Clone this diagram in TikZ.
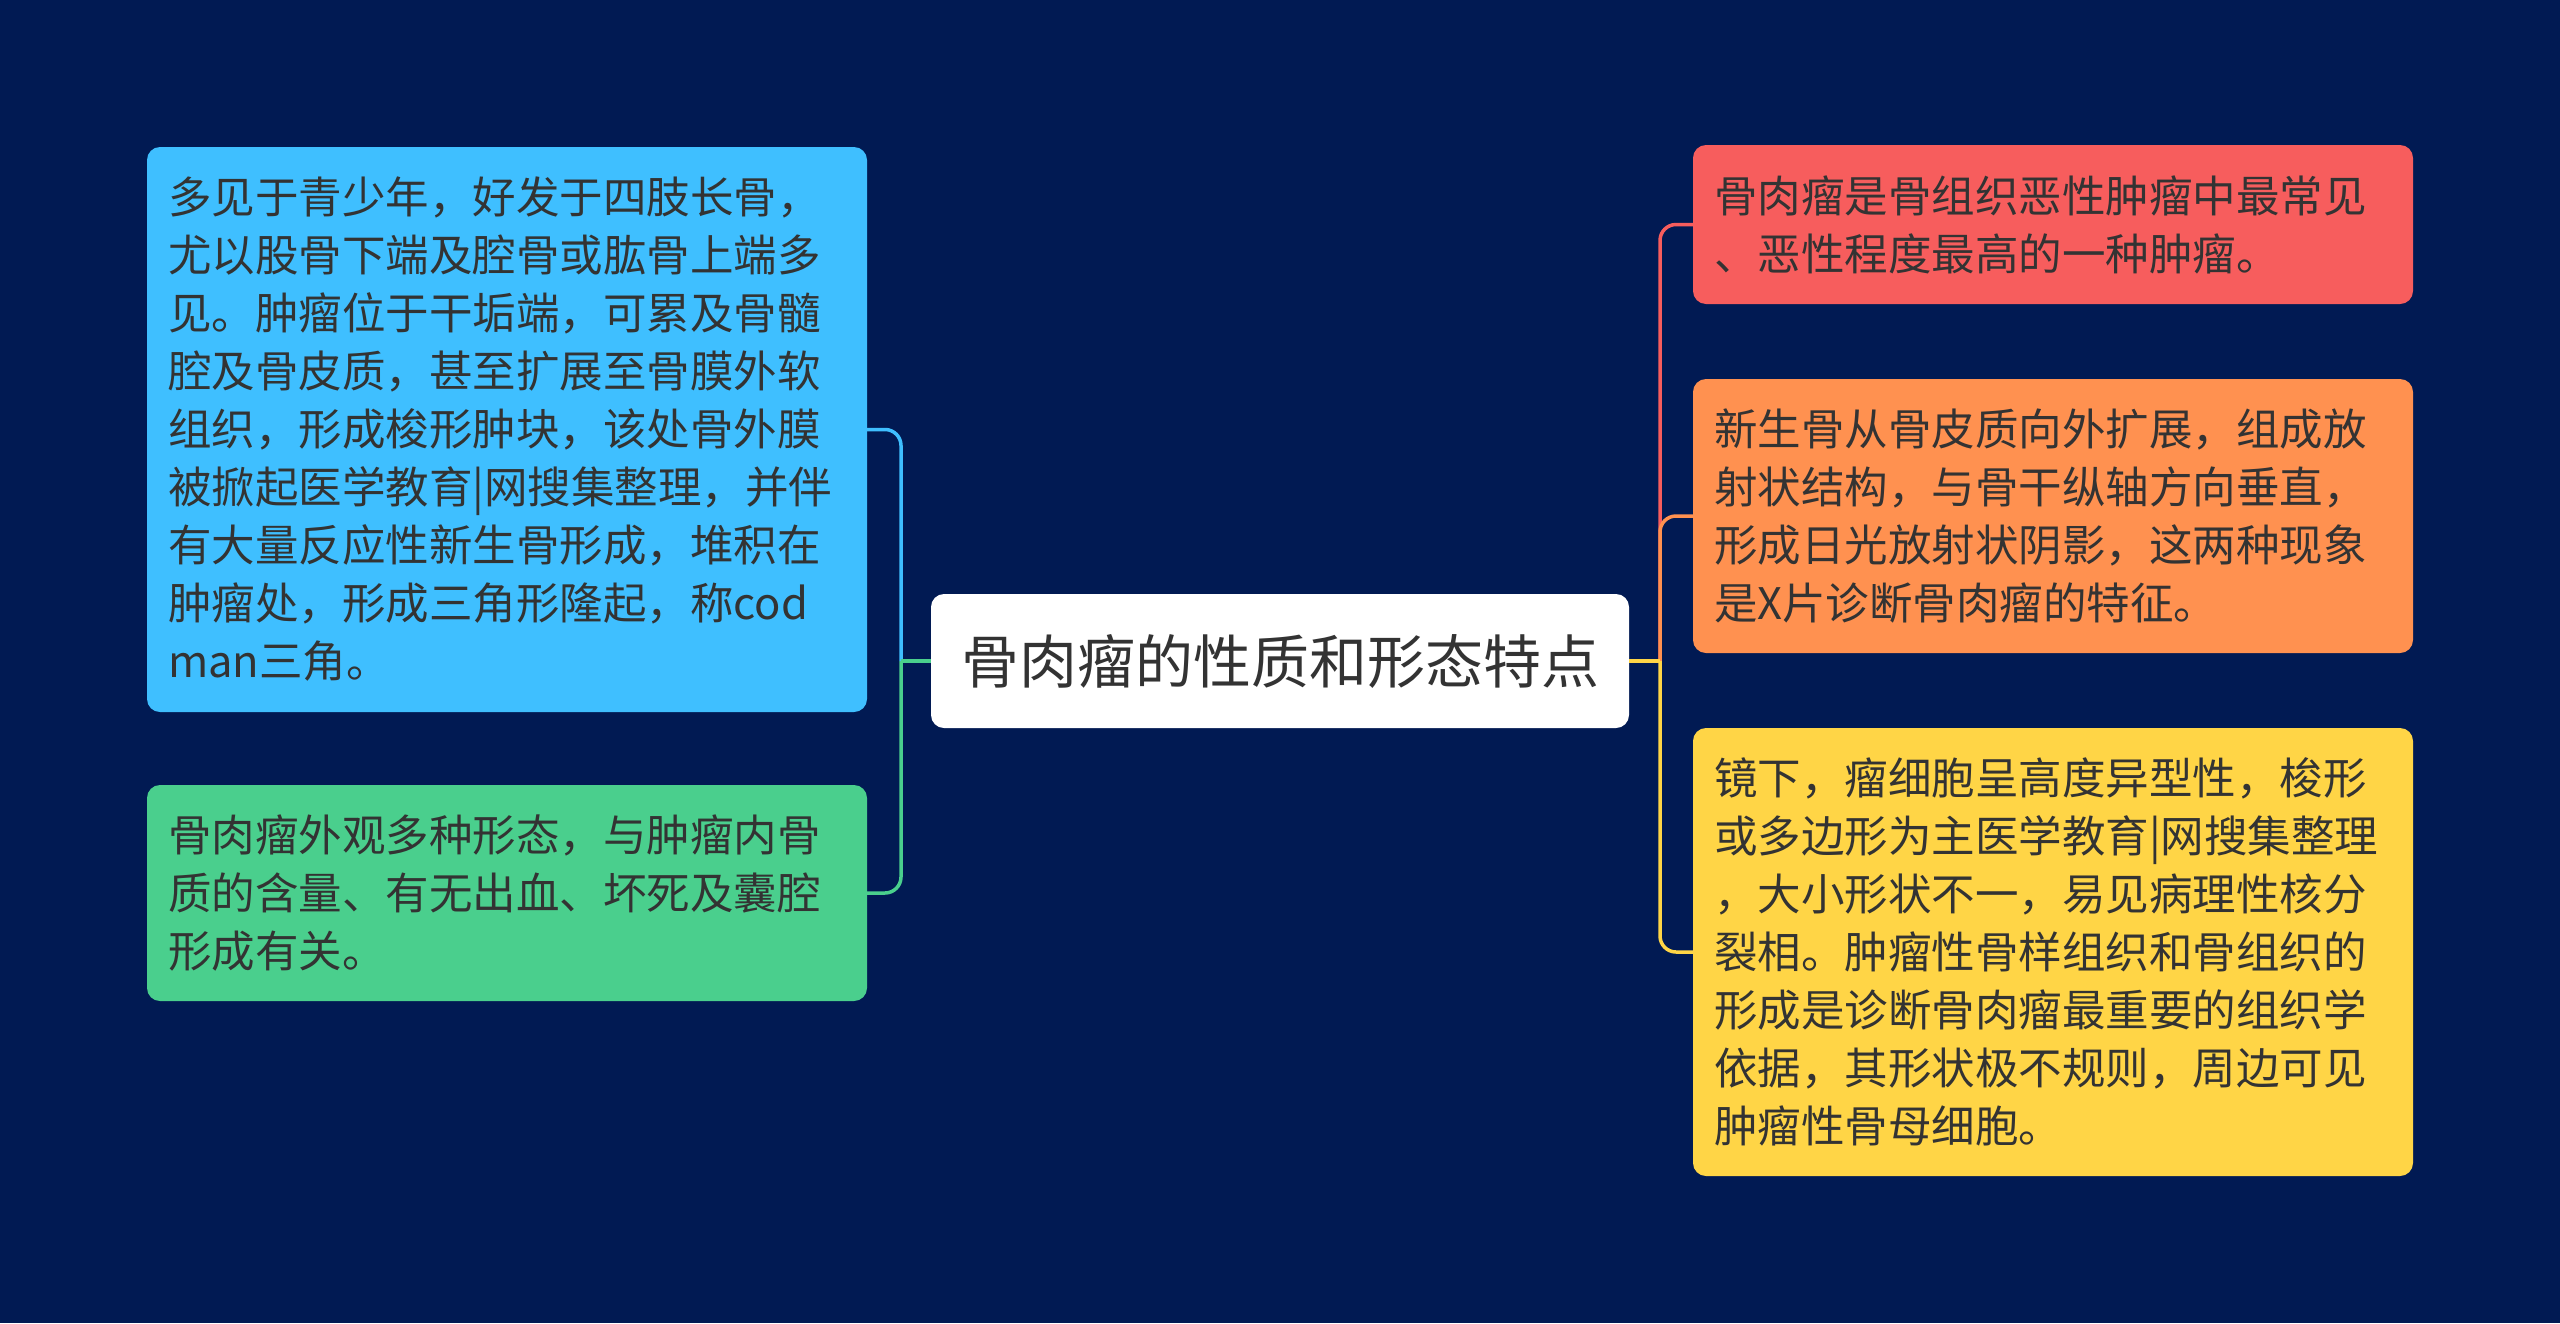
\documentclass[tikz,border=0pt]{standalone}
\usepackage{fontspec}
\newfontfamily\cjk{Noto Sans CJK SC}
\definecolor{bg}{HTML}{011A53}
\definecolor{cblue}{HTML}{3FBFFF}
\definecolor{cgreen}{HTML}{4ACF8D}
\definecolor{cred}{HTML}{F75D5D}
\definecolor{corange}{HTML}{FF9150}
\definecolor{cyellow}{HTML}{FFD546}
\definecolor{txt}{HTML}{333333}
\tikzset{
  leaf/.style={rounded corners=13pt, text width=678pt, inner xsep=21pt, inner ysep=0pt,
    align=left, text=txt, font=\cjk\fontsize{43.5}{58}\selectfont},
  rootbox/.style={rounded corners=13pt, fill=white, minimum width=698pt, minimum height=134pt,
    inner sep=0pt, text=txt, font=\cjk\fontsize{58}{70}\selectfont},
  conn/.style={line width=3.5pt}
}
\begin{document}
\begin{tikzpicture}[x=1pt,y=-1pt]
\fill[bg] (0,0) rectangle (2560,1323);
\useasboundingbox (0,0) rectangle (2560,1323);

\node[rootbox] (root) at (1280,661) {骨肉瘤的性质和形态特点};

\node[leaf, fill=cblue, minimum height=565pt] (blue) at (507,429.5) {多见于青少年，好发于四肢长骨，\\尤以股骨下端及腔骨或肱骨上端多\\见。肿瘤位于干垢端，可累及骨髓\\腔及骨皮质，甚至扩展至骨膜外软\\组织，形成梭形肿块，该处骨外膜\\被掀起医学教育|网搜集整理，并伴\\有大量反应性新生骨形成，堆积在\\肿瘤处，形成三角形隆起，称cod\\man三角。};

\node[leaf, fill=cgreen, minimum height=216pt] (green) at (507,893) {骨肉瘤外观多种形态，与肿瘤内骨\\质的含量、有无出血、坏死及囊腔\\形成有关。};

\node[leaf, fill=cred, minimum height=159pt] (red) at (2053,224.5) {骨肉瘤是骨组织恶性肿瘤中最常见\\、恶性程度最高的一种肿瘤。};

\node[leaf, fill=corange, minimum height=274pt] (orange) at (2053,516) {新生骨从骨皮质向外扩展，组成放\\射状结构，与骨干纵轴方向垂直，\\形成日光放射状阴影，这两种现象\\是X片诊断骨肉瘤的特征。};

\node[leaf, fill=cyellow, minimum height=448pt] (yellow) at (2053,952) {镜下，瘤细胞呈高度异型性，梭形\\或多边形为主医学教育|网搜集整理\\，大小形状不一，易见病理性核分\\裂相。肿瘤性骨样组织和骨组织的\\形成是诊断骨肉瘤最重要的组织学\\依据，其形状极不规则，周边可见\\肿瘤性骨母细胞。};

% left connectors
\coordinate (lt) at (901,661);
\draw[conn, cblue, rounded corners=16pt] (lt) -- (lt |- blue.east) -- (blue.east);
\draw[conn, cgreen, rounded corners=16pt] (lt) -- (lt |- green.east) -- (green.east);
\draw[conn, cgreen] (root.west) -- (lt);

% right connectors
\coordinate (rt) at (1660,661);
\draw[conn, cred, rounded corners=16pt] (rt) -- (rt |- red.west) -- (red.west);
\draw[conn, corange, rounded corners=16pt] (rt) -- (rt |- orange.west) -- (orange.west);
\draw[conn, cyellow, rounded corners=16pt] (rt) -- (rt |- yellow.west) -- (yellow.west);
\draw[conn, cyellow] (root.east) -- (rt);
\end{tikzpicture}
\end{document}
